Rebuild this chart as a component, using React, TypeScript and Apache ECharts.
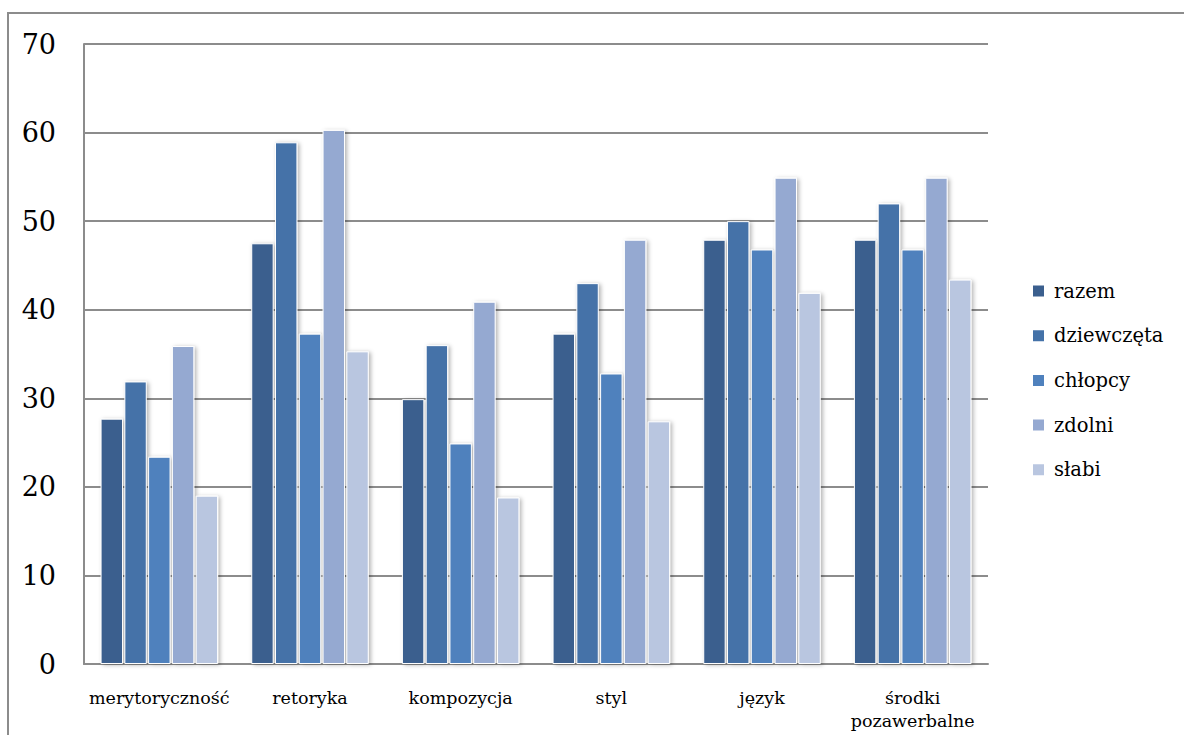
import React, { useEffect, useRef } from "react";
import * as echarts from "echarts";

const categories = ["merytoryczność", "retoryka", "kompozycja", "styl", "język", "środki\npozawerbalne"];
const seriesNames = ["razem", "dziewczęta", "chłopcy", "zdolni", "słabi"];
const razem = [27.7, 47.5, 29.9, 37.3, 47.9, 47.9];
const dziewczeta = [31.9, 58.9, 36.0, 43.0, 50.0, 52.0];
const chlopcy = [23.4, 37.3, 24.9, 32.8, 46.8, 46.8];
const zdolni = [35.9, 60.3, 40.9, 47.9, 54.9, 54.9];
const slabi = [19.0, 35.3, 18.8, 27.4, 41.9, 43.4];
const colors = ["#3b5f8e", "#4472a8", "#4f81bd", "#95a9d1", "#b9c6e0"];

export default function App() {
  const ref = useRef<HTMLDivElement>(null);
  useEffect(() => {
    const chart = echarts.init(ref.current!, null, { renderer: "svg" });
    const data = [razem, dziewczeta, chlopcy, zdolni, slabi];
    const font = "DejaVu Serif";
    chart.setOption({
      animation: false,
      backgroundColor: "#ffffff",
      textStyle: { fontFamily: font },
      grid: { left: 84, right: 196, top: 44, bottom: 71, containLabel: false },
      legend: {
        orient: "vertical",
        left: 1031,
        top: 280,
        padding: 0,
        itemWidth: 13,
        itemHeight: 13,
        itemGap: 22.7,
        icon: "rect",
        textStyle: { fontFamily: font, fontSize: 19.5, lineHeight: 22, color: "#000", padding: [0, 0, 0, 4] },
        data: seriesNames,
      },
      xAxis: {
        type: "category",
        data: categories,
        axisLine: { show: true, lineStyle: { color: "#8c8c8c", width: 2 } },
        axisTick: { show: false },
        axisLabel: { fontFamily: font, fontSize: 17.5, color: "#000", margin: 22, lineHeight: 23, interval: 0 },
      },
      yAxis: {
        type: "value",
        min: 0,
        max: 70,
        interval: 10,
        axisLine: { show: true, lineStyle: { color: "#8c8c8c", width: 2 } },
        axisTick: { show: false },
        splitLine: { show: true, lineStyle: { color: "#8c8c8c", width: 2 } },
        axisLabel: { fontFamily: font, fontSize: 27, color: "#000", margin: 28 },
      },
      series: seriesNames.map((name, i) => ({
        name,
        type: "bar",
        data: data[i],
        barGap: "6%",
        barCategoryGap: "22%",
        itemStyle: {
          color: colors[i],
          borderColor: "#ffffff",
          borderWidth: 1,
          shadowBlur: 4,
          shadowOffsetX: 2,
          shadowOffsetY: 1,
          shadowColor: "rgba(0,0,0,0.3)",
        },
      })),
      graphic: [
        {
          type: "rect",
          shape: { x: 8, y: 13, width: 1300, height: 900 },
          style: { fill: "none", stroke: "#8c8c8c", lineWidth: 2 },
          silent: true,
        },
      ],
    });
    return () => chart.dispose();
  }, []);
  return <div ref={ref} style={{ position: "fixed", left: 0, top: 0, width: 1184, height: 735 }} />;
}
